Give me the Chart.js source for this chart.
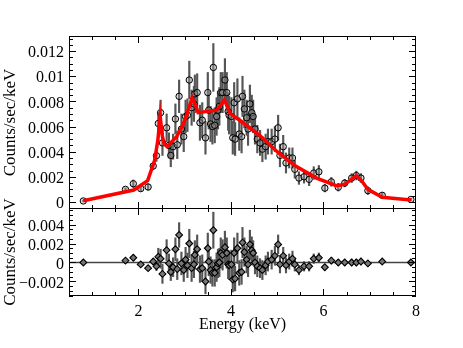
<!DOCTYPE html>
<html lang="en">
<head>
    <meta charset="UTF-8">
    <title>Spectrum with residuals</title>
    <script src="https://cdn.jsdelivr.net/npm/chart.js"></script>
    <style>
        body { margin: 0; background: #fff; }
        .wrap { position: relative; width: 463px; height: 348px; }
        canvas { position: absolute; left: 0; }
        #topChart { top: 0; }
        #botChart { top: 188px; }
    </style>
</head>
<body>
<div class="wrap">
    <canvas id="topChart" width="463" height="210"></canvas>
    <canvas id="botChart" width="463" height="160"></canvas>
</div>
<script>
// data points (keV, counts/sec/keV)
const energy = [0.81, 1.72, 1.89, 2.05, 2.21, 2.32, 2.39, 2.43, 2.48, 2.52,
    2.61, 2.66, 2.70, 2.75, 2.80, 2.84, 2.88, 2.93, 2.98, 3.02,
    3.06, 3.10, 3.15, 3.20, 3.22, 3.27, 3.33, 3.38, 3.45, 3.50,
    3.52, 3.56, 3.60, 3.62, 3.65, 3.69, 3.72, 3.75, 3.78, 3.82,
    3.87, 3.91, 3.94, 3.96, 4.01, 4.04, 4.07, 4.09, 4.14, 4.18,
    4.23, 4.25, 4.29, 4.34, 4.37, 4.41, 4.45, 4.48, 4.52, 4.57,
    4.63, 4.68, 4.75, 4.80, 4.88, 4.95, 5.02, 5.06, 5.13, 5.19,
    5.26, 5.33, 5.38, 5.47, 5.58, 5.69, 5.79, 5.90, 6.03, 6.17,
    6.32, 6.46, 6.61, 6.71, 6.81, 6.96, 7.27, 7.89];
const counts = [0.00008, 0.00100, 0.00145, 0.00106, 0.00119, 0.00286, 0.00368, 0.00624, 0.00710, 0.00470,
    0.00590, 0.00450, 0.00370, 0.00440, 0.00660, 0.00455, 0.00840, 0.00580, 0.00520, 0.00680,
    0.00690, 0.00970, 0.00750, 0.00780, 0.00860, 0.00870, 0.00630, 0.00650, 0.00510, 0.00870,
    0.00730, 0.00620, 0.00600, 0.01070, 0.00610, 0.00680, 0.00730, 0.00760, 0.00870, 0.00870,
    0.00970, 0.00870, 0.00720, 0.00690, 0.00680, 0.00510, 0.00790, 0.00500, 0.00820, 0.00540,
    0.00520, 0.00840, 0.00740, 0.00670, 0.00580, 0.00780, 0.00710, 0.00680, 0.00580, 0.00500,
    0.00470, 0.00420, 0.00440, 0.00480, 0.00480, 0.00500, 0.00590, 0.00370, 0.00440, 0.00310,
    0.00350, 0.00350, 0.00260, 0.00190, 0.00200, 0.00180, 0.00230, 0.00240, 0.00110, 0.00160,
    0.00117, 0.00150, 0.00190, 0.00210, 0.00190, 0.00090, 0.00053, 0.00020];
const errors = [0.00006, 0.00012, 0.00030, 0.00020, 0.00025, 0.00030, 0.00045, 0.00090, 0.00100, 0.00100,
    0.00110, 0.00100, 0.00090, 0.00100, 0.00120, 0.00110, 0.00130, 0.00120, 0.00120, 0.00130,
    0.00130, 0.00150, 0.00140, 0.00140, 0.00150, 0.00150, 0.00140, 0.00140, 0.00130, 0.00160,
    0.00150, 0.00140, 0.00140, 0.00190, 0.00140, 0.00150, 0.00150, 0.00150, 0.00160, 0.00160,
    0.00170, 0.00160, 0.00150, 0.00150, 0.00150, 0.00130, 0.00160, 0.00130, 0.00160, 0.00130,
    0.00130, 0.00160, 0.00150, 0.00140, 0.00130, 0.00150, 0.00140, 0.00130, 0.00120, 0.00110,
    0.00100, 0.00100, 0.00100, 0.00100, 0.00100, 0.00100, 0.00100, 0.00090, 0.00090, 0.00080,
    0.00080, 0.00080, 0.00070, 0.00050, 0.00050, 0.00050, 0.00050, 0.00050, 0.00030, 0.00035,
    0.00030, 0.00030, 0.00035, 0.00035, 0.00035, 0.00030, 0.00020, 0.00010];
const residuals = [0, 0.0002, 0.0005, -0.0002, -0.0006, 0.0001, -0.0004, 0.0006, 0.0004, -0.0012,
    0.0013, -0.0001, -0.0010, -0.0005, 0.0014, -0.0007, 0.0029, -0.0001, -0.0008, 0.0003,
    -0.0003, 0.0020, -0.0006, -0.0002, 0.0008, 0.0014, -0.0007, -0.0006, -0.0020, 0.0015,
    0.0001, -0.0008, -0.0011, 0.0034, -0.0011, -0.0005, -0.0001, 0.0000, 0.0010, 0.0008,
    0.0016, 0.0010, -0.0002, -0.0003, -0.0002, -0.0018, 0.0010, -0.0017, 0.0015, -0.0011,
    -0.0010, 0.0021, 0.0011, 0.0003, -0.0002, 0.0019, 0.0013, 0.0010, 0.0000, -0.0004,
    -0.0006, -0.0008, -0.0003, 0.0001, 0.0003, 0.0007, 0.0019, -0.0002, 0.0007, -0.0003,
    0.0001, 0.0004, -0.0002, -0.0008, -0.0004, -0.0004, 0.0004, 0.0005, -0.0005, 0.0002,
    0.0000, 0.0000, 0.0000, 0.0000, 0.0001, -0.0001, 0.0001, 0.0000];

// model curve (red)
const modelEnergy = [0.81, 1.90, 2.20, 2.35, 2.42, 2.47, 2.52, 2.56, 2.62, 2.83,
    2.97, 3.05, 3.16, 3.22, 3.29, 3.69, 3.80, 3.86, 3.93, 3.99,
    4.19, 4.62, 5.00, 5.38, 5.85, 6.28, 6.46, 6.71, 6.82, 6.96, 7.27, 7.89];
const modelCounts = [0.0001, 0.00095, 0.0017, 0.0033, 0.0049, 0.0068, 0.0052, 0.0046, 0.0044, 0.0052,
    0.0062, 0.0070, 0.0083, 0.0078, 0.0071, 0.0073, 0.0078, 0.0081, 0.0075, 0.0070,
    0.0065, 0.0053, 0.0040, 0.0029, 0.0019, 0.0013, 0.0014, 0.0021, 0.0017, 0.0010, 0.00037, 0.00016];

// axes
const xRange = [0.5, 8];
const xTicks = [2, 4, 6, 8];
const topRange = [-0.00056, 0.0132];
const topTicks = [0, 0.002, 0.004, 0.006, 0.008, 0.01, 0.012];
const topTickLabels = ['0', '0.002', '0.004', '0.006', '0.008', '0.01', '0.012'];
const botRange = [-0.00353, 0.00574];
const botTicks = [-0.002, 0, 0.002, 0.004];
const botTickLabels = ['\u22120.002', '0', '0.002', '0.004'];

const serif = 'Liberation Serif';
Chart.defaults.font.family = serif;
Chart.defaults.color = '#000';

// box with inward ticks on all four sides
const frameTicks = {
    id: 'frameTicks',
    afterDraw(chart, args, opts) {
        const { ctx, chartArea: a } = chart;
        const x = chart.scales.x, y = chart.scales.y;
        ctx.save();
        ctx.strokeStyle = '#000';
        ctx.lineWidth = 1;
        ctx.strokeRect(a.left + 0.5, a.top + 0.5, a.right - a.left - 1, a.bottom - a.top - 1);
        ctx.beginPath();
        for (let v = xRange[0] + 0.5; v < xRange[1] - 0.01; v += 0.5) {
            const px = Math.round(x.getPixelForValue(v)) + 0.5;
            const len = Math.abs(v % 2) < 1e-6 ? 7 : 4;
            ctx.moveTo(px, a.top); ctx.lineTo(px, a.top + len);
            ctx.moveTo(px, a.bottom); ctx.lineTo(px, a.bottom - len);
        }
        const step = opts.yMinor;
        for (let k = Math.ceil(y.min / step); k * step <= y.max; k++) {
            const v = k * step;
            const py = Math.round(y.getPixelForValue(v)) + 0.5;
            const r = v / opts.yMajor;
            const len = Math.abs(r - Math.round(r)) < 1e-6 ? 7 : 4;
            ctx.moveTo(a.left, py); ctx.lineTo(a.left + len, py);
            ctx.moveTo(a.right, py); ctx.lineTo(a.right - len, py);
        }
        ctx.stroke();
        ctx.restore();
    }
};

function errBars(vals) {
    return energy.map((e, i) => ({ x: e, y: [vals[i] - errors[i], vals[i] + errors[i]] }));
}

function noPad(s) {
    s.paddingTop = 0; s.paddingBottom = 0; s.paddingLeft = 0; s.paddingRight = 0;
}

function yAxis(range, ticks, labels) {
    return {
        min: range[0], max: range[1],
        grid: { display: false, drawTicks: false },
        border: { display: false },
        afterBuildTicks: s => { s.ticks = ticks.map(v => ({ value: v })); },
        afterFit: s => { s.width = 69; noPad(s); },
        ticks: {
            padding: 5, labelOffset: 2,
            font: { size: 16 },
            callback: v => labels[ticks.findIndex(t => Math.abs(t - v) < 1e-9)]
        },
        title: { display: true, text: 'Counts/sec/keV', font: { size: 17 }, padding: 0 }
    };
}

new Chart(document.getElementById('topChart'), {
    type: 'scatter',
    data: {
        datasets: [
            {
                type: 'line', order: 0,
                data: modelEnergy.map((e, i) => ({ x: e, y: modelCounts[i] })),
                borderColor: '#ff0000', borderWidth: 3.5, pointRadius: 0, tension: 0
            },
            {
                order: 1,
                data: energy.map((e, i) => ({ x: e, y: counts[i] })),
                pointStyle: 'circle', pointRadius: 3.2,
                borderColor: '#000', borderWidth: 1, backgroundColor: 'rgba(160,160,160,0.4)'
            },
            {
                type: 'bar', order: 2, grouped: false,
                data: errBars(counts),
                backgroundColor: '#555', barThickness: 1.5
            }
        ]
    },
    options: {
        responsive: false, animation: false,
        layout: { autoPadding: false, padding: { top: 36, right: 47, bottom: 1, left: 0 } },
        plugins: { legend: { display: false }, tooltip: { enabled: false },
            frameTicks: { yMinor: 0.0005, yMajor: 0.002 } },
        scales: {
            x: { type: 'linear', min: xRange[0], max: xRange[1], offset: false, display: false },
            y: yAxis(topRange, topTicks, topTickLabels)
        }
    },
    plugins: [frameTicks]
});

new Chart(document.getElementById('botChart'), {
    type: 'scatter',
    data: {
        datasets: [
            {
                type: 'line', order: 2,
                data: xRange.map(e => ({ x: e, y: 0 })),
                borderColor: '#444', borderWidth: 1.5, pointRadius: 0
            },
            {
                order: 0,
                data: energy.map((e, i) => ({ x: e, y: residuals[i] })),
                pointStyle: 'rectRot', pointRadius: 3.4,
                borderColor: '#000', borderWidth: 1.1, backgroundColor: '#777'
            },
            {
                type: 'bar', order: 1, grouped: false,
                data: errBars(residuals),
                backgroundColor: '#555', barThickness: 1.5
            }
        ]
    },
    options: {
        responsive: false, animation: false,
        layout: { autoPadding: false, padding: { top: 20, right: 47, bottom: 0, left: 0 } },
        plugins: { legend: { display: false }, tooltip: { enabled: false },
            frameTicks: { yMinor: 0.0005, yMajor: 0.002 } },
        scales: {
            x: {
                type: 'linear', min: xRange[0], max: xRange[1], offset: false,
                grid: { display: false, drawTicks: false, offset: false },
                border: { display: false },
                afterBuildTicks: s => { s.ticks = xTicks.map(v => ({ value: v })); },
                afterFit: s => { s.height = 52; noPad(s); },
                ticks: { padding: 6, maxRotation: 0, autoSkip: false, font: { size: 16 },
                    callback: v => String(v) },
                title: { display: true, text: 'Energy (keV)', font: { size: 16 },
                    padding: { top: 0, bottom: 14 } }
            },
            y: yAxis(botRange, botTicks, botTickLabels)
        }
    },
    plugins: [frameTicks]
});
</script>
</body>
</html>
